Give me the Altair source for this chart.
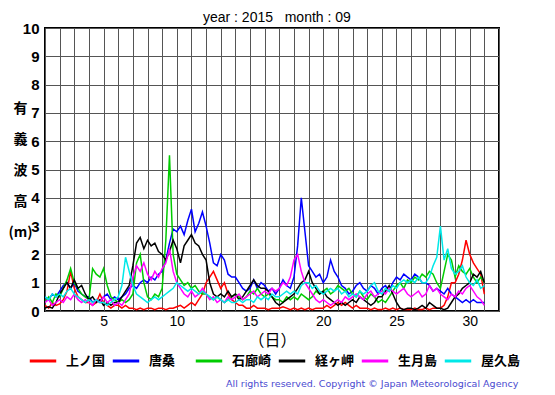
import altair as alt
import pandas as pd

stations = ["上ノ国", "唐桑", "石廊崎", "経ヶ岬", "生月島", "屋久島"]
colors = ["#ff0000", "#0000ff", "#00cc00", "#000000", "#ff00ff", "#00e8e8"]

# 6-hourly significant wave height (m), 1 Sep 00h .. 1 Oct 00h (day 1.00 .. 31.00)
kaminokuni = [
    0.2, 0.1, 0.3, 0.2,  0.25, 0.4, 0.7, 1.4,  0.8, 0.5, 0.4, 0.3,  0.3, 0.2, 0.3, 0.6,
    0.3, 0.2, 0.1, 0.2,  0.2, 0.1, 0.2, 0.1,  0.1, 0.05, 0.1, 0.05,  0.1, 0.1, 0.05, 0.1,
    0.1, 0.05, 0.1, 0.1,  0.15, 0.2, 0.1, 0.2,  0.3, 0.2, 0.4, 0.6,  1.0, 1.2, 1.4, 1.1,
    0.8, 1.0, 0.6, 0.4,  0.3, 0.2, 0.2, 0.1,  0.1, 0.2, 0.1, 0.1,  0.1, 0.05, 0.1, 0.1,
    0.1, 0.15, 0.1, 0.05,  0.1, 0.05, 0.1, 0.05,  0.1, 0.05, 0.1, 0.1,  0.1, 0.2, 0.1, 0.2,
    0.3, 0.2, 0.3, 0.2,  0.1, 0.2, 0.1, 0.1,  0.1, 0.05, 0.1, 0.05,  0.05, 0.1, 0.05, 0.1,
    0.05, 0.1, 0.05, 0.05,  0.05, 0.1, 0.05, 0.05,  0.1, 0.05, 0.1, 0.1,  0.1, 0.2, 0.5, 1.0,
    1.0, 1.3, 1.8, 2.5,  2.0, 1.7, 1.5, 1.3,  0.6,
]
karakuwa = [
    0.5, 0.4, 0.6, 0.5,  0.7, 0.9, 1.0, 0.8,  1.0, 0.7, 0.6, 0.5,  0.5, 0.3, 0.4, 0.3,
    0.5, 0.6, 0.4, 0.5,  0.4, 0.5, 0.6, 0.8,  0.9, 0.8, 1.0, 1.1,  1.0, 1.2, 1.1, 1.3,
    1.4, 1.8, 2.4, 2.9,  2.8, 3.0, 2.7, 3.2,  3.6, 2.8, 3.1, 3.5,  3.0, 2.4, 1.7, 1.6,
    2.0, 1.8, 1.3, 1.2,  1.2, 1.0, 0.8, 0.7,  0.8, 1.1, 0.8, 1.0,  0.9, 0.7, 0.8, 0.6,
    0.8, 1.1, 0.9, 0.8,  1.2, 2.3, 4.0, 2.8,  1.6, 1.4, 1.2, 1.3,  1.0, 1.2, 1.8, 1.4,
    1.2, 0.9, 0.8, 0.6,  0.7, 0.9, 1.0, 0.8,  0.7, 0.9, 0.8, 0.6,  0.8, 0.9, 0.7, 1.0,
    1.2, 1.1, 1.3, 1.2,  1.1, 1.3, 1.2, 1.0,  1.0, 0.9, 0.7, 0.8,  0.7, 0.6, 0.8, 0.6,
    0.5, 0.4, 0.3, 0.4,  0.3, 0.4, 0.3, 0.3,  0.3,
]
irozaki = [
    0.3, 0.5, 0.3, 0.6,  0.5, 0.8, 1.1, 1.5,  1.0, 0.8, 0.6, 0.5,  0.4, 1.5, 1.3, 1.2,
    1.5, 0.9, 0.5, 0.4,  0.3, 0.4, 0.3, 0.4,  0.6, 1.7, 2.0, 1.0,  0.5, 0.4, 0.6, 0.5,
    0.8, 2.5, 5.5, 2.0,  1.3, 1.1, 0.9, 1.0,  0.8, 0.9, 0.7, 0.6,  0.6, 0.5, 0.4, 0.5,
    0.4, 0.3, 0.4, 0.5,  0.6, 0.5, 0.4, 0.5,  0.7, 0.6, 0.8, 0.6,  0.5, 0.6, 0.5, 0.4,
    0.4, 0.3, 0.5, 0.4,  0.5, 0.4, 0.6, 0.5,  0.4, 0.5, 0.7, 0.6,  0.7, 0.8, 0.6, 0.7,
    0.9, 0.8, 0.7, 0.8,  0.6, 0.5, 0.7, 0.5,  0.4, 0.6, 0.5, 0.3,  0.4, 0.3, 0.5, 0.7,
    0.9, 1.0, 0.8, 1.1,  1.0, 1.2, 1.1, 1.3,  1.2, 1.4, 1.3, 1.0,  0.8, 1.4, 2.0, 1.8,
    1.2, 1.6, 1.4, 1.3,  1.5, 1.2, 1.0, 1.2,  1.0,
]
kyogamisaki = [
    0.1, 0.15, 0.1, 0.3,  0.6, 0.8, 1.0, 0.8,  1.1, 0.8, 0.9, 0.6,  0.4, 0.5, 0.3, 0.4,
    0.2, 0.3, 0.2, 0.3,  0.3, 0.5, 0.7, 0.9,  1.6, 2.4, 2.6, 2.2,  2.5, 2.3, 2.4, 2.1,
    2.0, 1.8, 2.1, 2.5,  2.2, 1.7, 2.3, 2.5,  2.7, 2.4, 2.3, 2.0,  1.8, 1.0, 0.6, 0.5,
    0.6, 0.5, 0.7, 0.5,  0.6, 0.4, 0.5, 0.7,  0.9, 1.1, 0.9, 0.8,  0.8, 0.7, 0.5, 0.3,
    0.2, 0.3, 0.4, 0.5,  0.6, 0.8, 1.0, 1.1,  1.4, 1.0, 0.8, 0.6,  0.7, 0.5, 0.4, 0.3,
    0.2, 0.3, 0.2, 0.3,  0.4, 0.3, 0.5, 0.4,  0.3, 0.2, 0.3, 0.5,  0.5, 0.7, 0.9, 0.6,
    0.3, 0.1, 0.05, 0.1,  0.1, 0.05, 0.1, 0.2,  0.1, 0.3, 0.2, 0.1,  0.1, 0.05, 0.1, 0.3,
    0.5, 0.6, 0.8, 0.9,  1.0, 1.3, 1.2, 1.4,  1.0,
]
ikitsukishima = [
    0.3, 0.4, 0.2, 0.3,  0.4, 0.3, 0.5, 0.4,  0.6, 0.4, 0.3, 0.4,  0.3, 0.2, 0.4, 0.3,
    0.5, 0.3, 0.4, 0.2,  0.3, 0.2, 0.4, 0.6,  1.2, 1.6, 1.4, 1.7,  1.3, 1.1, 1.4, 1.2,
    1.5, 1.7, 2.2, 1.4,  1.0, 0.8, 0.6, 0.5,  0.7, 0.5, 0.6, 0.8,  0.6, 0.4, 0.5, 0.3,
    0.4, 0.3, 0.5, 0.4,  0.5, 0.6, 0.4, 0.5,  0.6, 0.7, 0.5, 0.6,  0.7, 0.6, 0.8, 0.7,
    0.8, 1.0, 0.9, 1.2,  1.8, 2.0, 1.4, 1.0,  0.8, 0.6, 0.4, 0.3,  0.4, 0.3, 0.2, 0.3,
    0.4, 0.3, 0.5, 0.4,  0.5, 0.6, 0.5, 0.4,  0.6, 0.7, 0.5, 0.6,  0.7, 0.6, 0.8, 0.7,
    0.6, 0.7, 0.8, 0.6,  0.5, 0.6, 0.7, 0.5,  0.6, 0.9, 0.7, 0.8,  0.6, 0.5, 0.4, 0.6,
    0.5, 0.7, 0.6, 0.8,  0.9, 0.7, 0.5, 0.4,  0.2,
]
yakushima = [
    0.5, 0.4, 0.6, 0.5,  0.6, 0.5, 0.7, 0.8,  0.6, 0.5, 0.4, 0.3,  0.4, 0.3, 0.4, 0.3,
    0.3, 0.2, 0.3, 0.4,  0.5, 0.9, 1.9, 1.4,  0.9, 0.6, 0.5, 0.4,  0.3, 0.4, 0.5, 0.4,
    0.5, 0.6, 0.7, 0.8,  1.0, 0.9, 0.8, 0.7,  0.8, 0.7, 0.6, 0.7,  0.6, 0.5, 0.4, 0.5,
    0.4, 0.3, 0.4, 0.3,  0.3, 0.4, 0.3, 0.4,  0.4, 0.3, 0.5, 0.4,  0.5, 0.4, 0.6, 0.5,
    0.5, 0.6, 0.7, 0.6,  0.7, 0.6, 0.9, 1.0,  1.0, 0.8, 0.9, 0.7,  0.6, 0.7, 0.8, 0.7,
    0.8, 0.6, 0.7, 0.5,  0.6, 0.5, 0.7, 0.6,  0.7, 0.9, 1.0, 0.7,  0.6, 0.8, 0.7, 0.9,
    0.8, 1.0, 1.1, 1.0,  1.1, 1.0, 1.2, 1.0,  1.0, 1.2, 1.6, 1.9,  3.0, 1.8, 2.2, 1.5,
    1.3, 1.4, 1.6, 1.2,  1.0, 0.9, 1.1, 0.8,  0.9,
]

series = [kaminokuni, karakuwa, irozaki, kyogamisaki, ikitsukishima, yakushima]
rows = []
for name, vals in zip(stations, series):
    for i, v in enumerate(vals):
        rows.append({"day": 1 + i / 4, "height": v, "station": name})
df = pd.DataFrame(rows)

title_text = "year : 2015\u00a0\u00a0\u00a0month : 09"
copyright_text = "All rights reserved. Copyright \u00a9 Japan Meteorological Agency"

lines = alt.Chart(df).mark_line(strokeWidth=1.5, clip=True).encode(
    x=alt.X(
        "day:Q",
        scale=alt.Scale(domain=[1, 32], nice=False, zero=False),
        axis=alt.Axis(
            values=list(range(1, 33)),
            labelExpr="datum.value % 5 == 0 ? datum.value : ''",
            grid=True, gridColor="#555555", gridWidth=1, gridOpacity=1,
            ticks=False, domain=False,
            labelFont="Liberation Sans", labelFontSize=14, labelColor="black",
            labelPadding=3,
            title="（日）", titleFont="Noto Sans CJK JP", titleFontSize=16,
            titleFontWeight="normal", titlePadding=4, titleColor="black",
        ),
    ),
    y=alt.Y(
        "height:Q",
        scale=alt.Scale(domain=[0, 10], nice=False),
        axis=alt.Axis(
            values=list(range(0, 11)),
            grid=True, gridColor="#555555", gridWidth=1, gridOpacity=1,
            ticks=False, domain=False,
            labelFont="Liberation Sans", labelFontSize=15, labelFontWeight="bold",
            labelColor="black", labelPadding=6,
            title=["有", "義", "波", "高", "(m)"], titleAngle=0,
            titleFont="Noto Sans CJK JP", titleFontSize=14, titleFontWeight="bold",
            titleColor="black", titleLineHeight=31, titleAlign="center",
            titleBaseline="top", titleX=-25, titleY=73,
        ),
    ),
    color=alt.Color(
        "station:N",
        scale=alt.Scale(domain=stations, range=colors),
        sort=stations,
        legend=alt.Legend(
            title=None, orient="none", direction="horizontal", columns=6,
            legendX=-17, legendY=318, gridAlign="all", columnPadding=0,
            symbolType="stroke", symbolSize=700, symbolStrokeWidth=3,
            symbolOffset=0, labelOffset=8,
            labelFont="Noto Sans CJK JP", labelFontSize=13, labelFontWeight="bold",
            labelColor="black",
        ),
    ),
)

copyright_layer = alt.Chart(pd.DataFrame({"t": [copyright_text]})).mark_text(
    align="left", baseline="middle", font="DejaVu Sans", fontSize=9.5, color="#4a4ad0"
).encode(text="t:N", x=alt.value(181), y=alt.value(356))

chart = alt.layer(lines, copyright_layer).properties(
    width=454, height=283,
    title=alt.TitleParams(
        text=title_text, anchor="start", dx=195, offset=-4,
        font="Liberation Sans", fontSize=14, fontWeight="normal", color="black",
    ),
    autosize=alt.AutoSizeParams(type="none"),
    padding={"left": 37, "top": 20, "right": 40, "bottom": 80},
).configure_view(stroke="black", strokeWidth=2)

chart.save("out.html", embed_options={"renderer": "svg", "actions": False})
